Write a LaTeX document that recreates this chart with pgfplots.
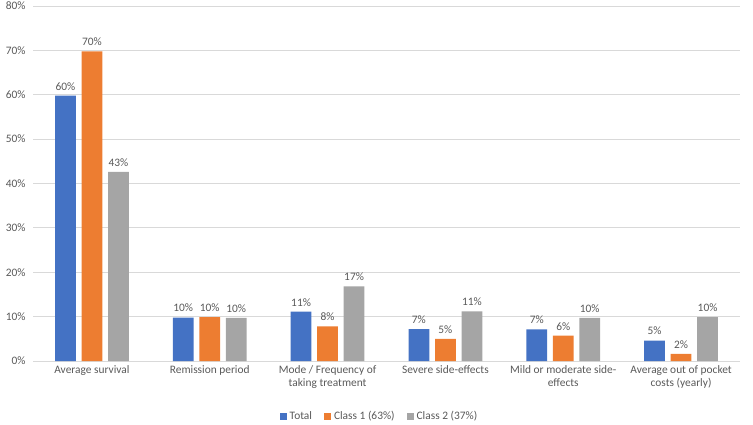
\documentclass[border=0pt]{standalone}
\usepackage{fontspec}
\setmainfont{Carlito}
\usepackage{pgfplots}
\pgfplotsset{compat=1.18}
\definecolor{cTot}{HTML}{4472C4}
\definecolor{cOne}{HTML}{ED7D31}
\definecolor{cTwo}{HTML}{A5A5A5}
\definecolor{txt}{HTML}{595959}
\definecolor{grd}{HTML}{D9D9D9}
\begin{document}
\begin{tikzpicture}
\useasboundingbox (0,0) rectangle (753pt,424pt);
\begin{axis}[
  at={(33pt,63pt)}, anchor=south west,
  scale only axis, width=707pt, height=355pt,
  xmin=-0.5, xmax=5.5, ymin=0, ymax=80,
  ytick={0,10,...,80},
  /pgf/number format/assume math mode=true,
  yticklabel={\pgfmathprintnumber{\tick}\%},
  xtick={0,...,5},
  xticklabels={Average survival, Remission period, Mode / Frequency of\\taking treatment, Severe side-effects, Mild or moderate side-\\effects, Average out of pocket\\costs (yearly)},
  xticklabel style={align=center, text=txt, font=\fontsize{11.4}{13.5}\selectfont, yshift=-1pt},
  yticklabel style={text=txt, font=\fontsize{11.4}{13}\selectfont, xshift=-4pt},
  axis line style={draw=none},
  major tick length=0pt,
  ymajorgrids, grid style={grd, line width=0.8pt},
  ybar, bar width=20.7pt,
  nodes near coords={\pgfmathprintnumber[fixed,precision=0]{\pgfplotspointmeta}\%},
  every node near coord/.append style={text=txt, font=\fontsize{11.4}{13}\selectfont, yshift=2pt},
  legend style={draw=none, at={(0.5,0)}, anchor=center, xshift=-7pt, yshift=-55pt, font=\fontsize{11.4}{13}\selectfont, text=txt,
    /tikz/every even column/.append style={column sep=10pt}, /tikz/every odd column/.append style={column sep=1pt}},
  legend columns=-1,
  clip=false,
]
\addplot[fill=cTot, draw=none, bar shift=-26.5pt, legend image code/.code={\fill[cTot] (0pt,-3.5pt) rectangle (7pt,3.5pt);}] coordinates {(0,59.8) (1,9.8) (2,11.1) (3,7.2) (4,7.1) (5,4.6)};
\addplot[fill=cOne, draw=none, bar shift=0pt, legend image code/.code={\fill[cOne] (0pt,-3.5pt) rectangle (7pt,3.5pt);}] coordinates {(0,69.8) (1,9.9) (2,7.8) (3,5.0) (4,5.7) (5,1.6)};
\addplot[fill=cTwo, draw=none, bar shift=26.5pt, legend image code/.code={\fill[cTwo] (0pt,-3.5pt) rectangle (7pt,3.5pt);}] coordinates {(0,42.6) (1,9.7) (2,16.8) (3,11.2) (4,9.7) (5,9.9)};
\legend{Total, Class 1 (63\%), Class 2 (37\%)}
\end{axis}
\end{tikzpicture}
\end{document}
